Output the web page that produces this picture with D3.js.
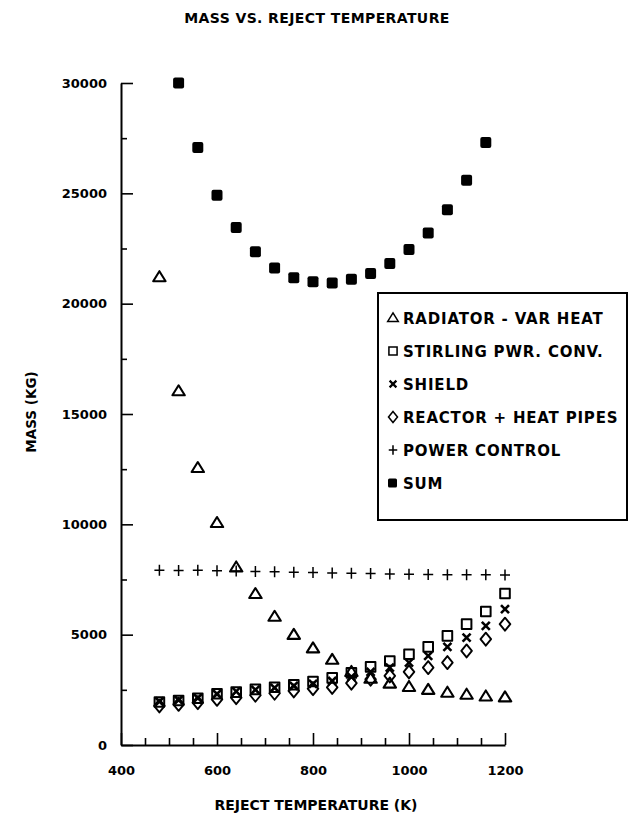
<!DOCTYPE html>
<meta charset="utf-8">
<body style="margin:0;background:#fff">
<script src="https://d3js.org/d3.v7.min.js"></script>
<script>

// values (kg vs K)
var temps     = [480,520,560,600,640,680,720,760,800,840,880,920,960,1000,1040,1080,1120,1160,1200];
var radiator  = [21200,16030,12550,10060,8045,6840,5810,4990,4380,3860,3310,3000,2780,2630,2500,2370,2280,2200,2160];
var stirling  = [1950,2020,2120,2320,2395,2520,2620,2730,2880,3040,3270,3540,3810,4115,4446,4945,5476,6047,6864];
var shield    = [1970,2040,2130,2310,2430,2500,2590,2680,2770,2900,3085,3310,3507,3734,4038,4446,4868,5400,6156];
var reactor   = [1770,1845,1920,2070,2145,2255,2345,2450,2555,2610,2800,2980,3130,3312,3507,3734,4264,4795,5476];
var power     = [7920,7910,7920,7900,7880,7860,7850,7830,7820,7800,7780,7770,7750,7740,7730,7720,7710,7710,7700];
var sumTemps  = [520,560,600,640,680,720,760,800,840,880,920,960,1000,1040,1080,1120,1160];
var sumMass   = [30000,27080,24910,23450,22350,21620,21180,20990,20940,21110,21370,21820,22450,23200,24260,25590,27300];

var legendLabels = ['RADIATOR - VAR HEAT','STIRLING PWR. CONV.','SHIELD','REACTOR + HEAT PIPES','POWER CONTROL','SUM'];
var yMajor = [0,5000,10000,15000,20000,25000,30000];
var yMinor = [2500,7500,12500,17500,22500,27500];
var xMajor = [400,600,800,1000,1200];
var xMinor = [450,500,550,650,700,750,850,900,950,1050,1100,1150];

var FONT = '"DejaVu Sans", sans-serif';

var svg = d3.select('body').append('svg')
    .attr('width', 637)
    .attr('height', 822);

var x = d3.scaleLinear().domain([400,1200]).range([121,505]);
var y = d3.scaleLinear().domain([0,30000]).range([745,83]);

// marker shapes
var shapes = {
  tri:  () => 'M0,-6 L6.2,4 L-6.2,4 Z',
  sq:   () => 'M-4.8,-4.8 H4.8 V4.8 H-4.8 Z',
  x:    () => 'M-4,-4 L4,4 M4,-4 L-4,4',
  dia:  () => 'M0,-6.5 L5.3,0 L0,6.5 L-5.3,0 Z',
  plus: () => 'M-5,0 H5 M0,-5.5 V5.5',
};

// axes, ticks point inward
var gy = svg.append('g').attr('transform', 'translate(121,0)');
gy.call(d3.axisLeft(y).tickValues(yMajor).tickFormat(d3.format('d'))
  .tickSizeInner(-12).tickSizeOuter(0).tickPadding(14));
gy.append('g').call(d3.axisLeft(y).tickValues(yMinor).tickSizeInner(-6).tickSizeOuter(0).tickFormat(''))
  .select('.domain').remove();

var gx = svg.append('g').attr('transform', 'translate(0,745)');
gx.call(d3.axisBottom(x).tickValues(xMajor).tickFormat(d3.format('d'))
  .tickSizeInner(-12).tickSizeOuter(0).tickPadding(21));
gx.append('g').call(d3.axisBottom(x).tickValues(xMinor).tickSizeInner(-7).tickSizeOuter(0).tickFormat(''))
  .select('.domain').remove();

svg.selectAll('.domain').attr('stroke', '#000').attr('stroke-width', 2);
svg.selectAll('.tick line').attr('stroke', '#000').attr('stroke-width', 1.6);
svg.selectAll('.tick text')
  .attr('fill', '#000')
  .style('font-family', FONT)
  .style('font-weight', 'bold')
  .style('font-size', '13px');

// series
function drawSeries(xs, vals, shape, opts) {
  svg.append('g').selectAll('path')
    .data(vals)
    .enter().append('path')
    .attr('transform', (d,i) => `translate(${x(xs[i])},${y(d)})`)
    .attr('d', shapes[shape])
    .attr('fill', opts.fill || 'none')
    .attr('stroke', '#000')
    .attr('stroke-width', opts.sw || 2)
    .attr('stroke-linejoin', 'round');
}

drawSeries(temps, radiator, 'tri', {sw: 2.1});
drawSeries(temps, reactor, 'dia', {sw: 1.9});
drawSeries(temps, shield, 'x', {sw: 2.6});
drawSeries(temps, stirling, 'sq', {sw: 2});
drawSeries(temps, power, 'plus', {sw: 1.5});

svg.append('g').selectAll('rect')
  .data(sumMass)
  .enter().append('rect')
  .attr('x', (d,i) => x(sumTemps[i]) - 5.5)
  .attr('y', d => y(d) - 5.5)
  .attr('width', 11)
  .attr('height', 11)
  .attr('rx', 2)
  .attr('fill', '#000');

// legend
var lg = svg.append('g');
lg.append('rect')
  .attr('x', 378).attr('y', 293)
  .attr('width', 249).attr('height', 227)
  .attr('fill', '#fff')
  .attr('stroke', '#000')
  .attr('stroke-width', 2);

var legendShapes = ['tri','sq','x','dia','plus','sum'];
legendLabels.forEach((t, i) => {
  var cy = 318 + i * 33;
  var s = legendShapes[i];
  if (s == 'sum') {
    lg.append('rect').attr('x', 388).attr('y', cy - 4.5).attr('width', 9).attr('height', 9)
      .attr('rx', 1.5).attr('fill', '#000');
  } else {
    lg.append('path')
      .attr('transform', `translate(393,${cy}) scale(0.85)`)
      .attr('d', shapes[s])
      .attr('fill', 'none')
      .attr('stroke', '#000')
      .attr('stroke-width', s == 'x' ? 2.6 : 1.8);
  }
  lg.append('text')
    .attr('x', 403)
    .attr('y', cy + 5.5)
    .text(t)
    .style('font-family', FONT)
    .style('font-weight', 'bold')
    .style('font-size', '15px')
    .style('letter-spacing', '0.8px');
});

// titles
svg.append('text')
  .attr('x', 317).attr('y', 23)
  .attr('text-anchor', 'middle')
  .text('MASS VS. REJECT TEMPERATURE')
  .style('font-family', FONT).style('font-weight', 'bold')
  .style('font-size', '14px').style('letter-spacing', '0.4px');

svg.append('text')
  .attr('x', 316).attr('y', 810)
  .attr('text-anchor', 'middle')
  .text('REJECT TEMPERATURE (K)')
  .style('font-family', FONT).style('font-weight', 'bold')
  .style('font-size', '14px');

svg.append('text')
  .attr('transform', 'translate(36,412) rotate(-90)')
  .attr('text-anchor', 'middle')
  .text('MASS (KG)')
  .style('font-family', FONT).style('font-weight', 'bold')
  .style('font-size', '13.5px');

</script>
</body>
